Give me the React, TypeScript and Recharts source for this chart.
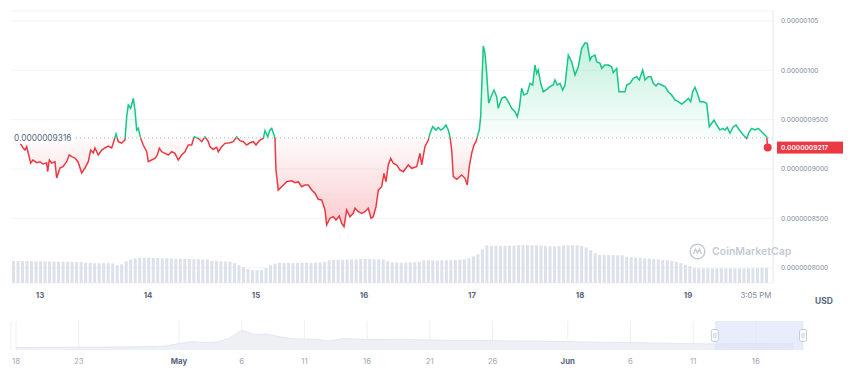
import React from "react";
import {
  ComposedChart,
  AreaChart,
  BarChart,
  Area,
  Bar,
  XAxis,
  YAxis,
  CartesianGrid,
  ReferenceLine,
  ReferenceDot,
  ReferenceArea,
} from "recharts";

const FONT = "Inter, 'Noto Sans', sans-serif";
const GREEN = "#16c784";
const RED = "#ea3943";
const MUTED = "#808a9d";
const DARK = "#58667e";

// hours since 13 Jun 00:00
const hours = [
  -6.44, -4.4, -3.71, -3.33, -2.96, -2.67, -2.07, -1.56, -0.73, 0,
  0.67, 1.49, 1.71, 2.07, 2.6, 3.33, 3.71, 4.44, 5.11, 5.93,
  6.51, 7.04, 7.78, 8.44, 9.27, 10.0, 10.73, 11.27, 11.84, 12.22,
  12.95, 13.71, 14.44, 15.18, 15.93, 16.29, 16.89, 17.4, 18.15, 18.89,
  19.27, 19.62, 20.15, 20.73, 21.11, 21.49, 21.84, 22.38, 22.95, 23.71,
  24.07, 24.82, 25.55, 26.07, 26.51, 27.04, 27.78, 28.51, 29.27, 30.0,
  30.73, 31.49, 32.22, 32.95, 33.71, 34.29, 35.18, 35.93, 36.67, 37.4,
  37.78, 38.51, 39.27, 39.62, 40.38, 41.11, 42.22, 42.95, 43.71, 44.44,
  45.18, 45.93, 46.67, 47.4, 48.0, 48.73, 49.62, 50.0, 50.6, 51.11,
  51.49, 52.0, 52.22, 52.44, 52.95, 53.71, 54.82, 55.93, 56.67, 57.4,
  58.15, 58.89, 59.62, 60.38, 61.11, 61.84, 62.6, 63.33, 63.71, 64.44,
  65.18, 65.78, 66.51, 67.04, 67.56, 68.15, 68.89, 69.62, 70.0, 70.73,
  71.49, 72.22, 72.95, 73.56, 74.07, 74.67, 75.18, 75.93, 76.44, 76.89,
  77.4, 77.93, 78.51, 79.27, 80.0, 80.73, 81.84, 82.6, 83.71, 84.44,
  84.82, 85.55, 86.29, 86.67, 87.27, 88.0, 88.51, 89.04, 89.62, 90.22,
  90.73, 91.11, 91.49, 91.84, 92.6, 93.71, 94.44, 94.95, 95.4, 95.93,
  96.44, 96.89, 97.18, 97.62, 97.93, 98.22, 98.51, 98.89, 99.27, 99.71,
  100.38, 100.89, 101.49, 101.84, 102.6, 103.33, 104.07, 104.82, 105.55, 106.07,
  106.51, 107.04, 107.55, 108.29, 108.89, 109.49, 110.0, 110.38, 110.73, 111.27,
  111.84, 112.6, 113.33, 114.07, 114.44, 114.95, 115.55, 116.15, 116.67, 117.4,
  118.15, 118.89, 119.62, 120.38, 121.11, 121.62, 122.22, 122.6, 123.33, 123.71,
  124.44, 124.82, 125.55, 126.29, 127.04, 127.4, 128.15, 128.67, 129.27, 130.0,
  130.38, 131.11, 131.84, 132.6, 133.18, 133.93, 134.44, 135.18, 135.78, 136.29,
  136.89, 137.4, 138.15, 138.89, 139.62, 140.38, 141.11, 141.84, 142.6, 143.33,
  144.07, 144.6, 145.04, 145.55, 146.07, 146.67, 147.4, 148.15, 148.73, 149.27,
  149.78, 150.38, 151.11, 151.71, 152.22, 152.73, 153.33, 154.07, 154.67, 155.4,
  156.29, 157.04, 157.62, 158.15, 158.89, 159.62, 160.38, 161.11, 161.49, 161.71,
];

// price in millionths of a USD
const price = [
  0.9316, 0.9263, 0.921, 0.9192, 0.9226, 0.9172, 0.9061, 0.9091, 0.9064, 0.9074,
  0.9051, 0.9061, 0.8973, 0.9091, 0.9061, 0.9074, 0.8909, 0.901, 0.9023, 0.9074,
  0.9142, 0.9125, 0.9111, 0.9074, 0.8959, 0.901, 0.9074, 0.9192, 0.9162, 0.9213,
  0.9142, 0.9192, 0.9213, 0.9233, 0.9213, 0.9263, 0.9355, 0.9277, 0.9263, 0.9294,
  0.953, 0.9648, 0.9615, 0.9716, 0.9598, 0.9395, 0.9415, 0.9311, 0.9243, 0.9175,
  0.9074, 0.9091, 0.9108, 0.9142, 0.921, 0.9175, 0.9159, 0.9142, 0.9175, 0.9159,
  0.9091, 0.9142, 0.9175, 0.9243, 0.9243, 0.9327, 0.9311, 0.9277, 0.9327, 0.9277,
  0.9226, 0.92, 0.922, 0.9175, 0.9226, 0.926, 0.9266, 0.9277, 0.9327, 0.9287,
  0.9277, 0.9243, 0.9266, 0.9277, 0.9243, 0.9287, 0.9311, 0.9388, 0.9327, 0.9395,
  0.9412, 0.9344, 0.9311, 0.899, 0.8787, 0.8821, 0.8871, 0.8881, 0.8861, 0.8871,
  0.8821, 0.8838, 0.8838, 0.8787, 0.8754, 0.8693, 0.8686, 0.8585, 0.8433, 0.8501,
  0.8517, 0.8483, 0.8524, 0.845, 0.8415, 0.8585, 0.8517, 0.8551, 0.8602, 0.8567,
  0.8551, 0.8567, 0.8602, 0.8501, 0.8517, 0.8618, 0.8787, 0.8821, 0.8956, 0.8871,
  0.9041, 0.9108, 0.9058, 0.9041, 0.899, 0.8973, 0.9041, 0.9007, 0.9023, 0.9159,
  0.9041, 0.9226, 0.9294, 0.9362, 0.9429, 0.9395, 0.9422, 0.9395, 0.9412, 0.9446,
  0.9395, 0.9327, 0.9192, 0.8922, 0.8896, 0.8939, 0.8906, 0.8838, 0.9023, 0.9159,
  0.9243, 0.9277, 0.9327, 0.9395, 0.953, 0.9902, 1.0246, 1.0172, 0.9969, 0.9666,
  0.975, 0.98, 0.9732, 0.9615, 0.9716, 0.9732, 0.9682, 0.9615, 0.958, 0.953,
  0.9615, 0.9818, 0.975, 0.9767, 0.9868, 0.9851, 1.0054, 0.9969, 1.0003, 0.9868,
  0.9783, 0.9807, 0.9834, 0.9851, 0.9902, 0.9851, 0.9868, 0.98, 0.9851, 1.0155,
  1.0087, 0.9952, 1.0036, 1.0223, 1.0279, 1.0273, 1.0104, 1.0138, 1.0155, 1.0087,
  1.0071, 1.002, 1.0054, 1.0054, 1.0036, 0.9976, 1.002, 0.9783, 0.9783, 0.9783,
  0.9851, 0.9868, 0.9919, 0.9935, 0.9902, 1.0003, 0.9902, 0.9935, 0.9935, 0.9868,
  0.9841, 0.9868, 0.9851, 0.9834, 0.9783, 0.975, 0.9699, 0.9682, 0.9658, 0.9682,
  0.9716, 0.9682, 0.9783, 0.9828, 0.9767, 0.9682, 0.9682, 0.9666, 0.9429, 0.9463,
  0.9496, 0.9446, 0.9395, 0.9412, 0.9395, 0.9422, 0.9362, 0.9429, 0.9446, 0.9395,
  0.9344, 0.9311, 0.9378, 0.9412, 0.9395, 0.9412, 0.9378, 0.9344, 0.9327, 0.9217,
];

const basePrice = 0.9316;
const lastPrice = price[price.length - 1];
const lastHour = hours[hours.length - 1];

const dayTicks = [0, 24, 48, 72, 96, 120, 144, 159.08];
const dayLabels = ["13", "14", "15", "16", "17", "18", "19", "3:05 PM"];
const priceTicks = [0.8, 0.85, 0.9, 0.95, 1.0, 1.05];
const priceLabels = [
  "0.0000008000",
  "0.0000008500",
  "0.0000009000",
  "0.0000009500",
  "0.00000100",
  "0.00000105",
];

// hourly volume, million USD, from 12 Jun 18:00
const volume = [
  89, 89, 88, 89, 88, 88,
  88, 88, 87, 87, 86, 86, 86, 85, 85, 85,
  82, 81, 80, 80, 80, 80, 79,
  72, 76, 88, 95,
  100, 101, 102, 102, 101, 101, 100, 100,
  99, 98, 98, 97, 97, 96, 96, 95, 95,
  90, 90, 88, 87, 86,
  80, 72, 64, 56, 52, 52, 52, 60, 72, 78,
  81, 81, 82, 81, 81, 82, 82, 81, 82, 83, 85,
  92, 93, 94, 94, 95, 95, 95,
  97, 97, 97, 96, 96, 95,
  88, 83, 83, 82, 83, 83, 84, 86,
  92, 92, 92, 91, 92, 92, 92, 93, 94,
  96, 100, 108, 116, 136, 152,
  150, 151, 150, 150, 151, 152, 153, 154, 154, 153, 152, 151, 150, 148, 148, 150, 152, 153, 153, 152, 150,
  144, 132, 120, 114, 114, 113, 113, 112, 112,
  105, 104, 103, 102, 100, 99, 97, 95, 93, 92, 90,
  86, 80, 74, 68, 62,
  59, 59, 59, 59, 59, 59, 59, 59, 59, 59, 59, 59, 59, 60, 61, 61,
  null,
];

// overview: daily price (millionths of USD) from 18 Apr
const overview = [
  0.4, 0.4, 0.42, 0.42, 0.43, 0.44, 0.45, 0.45, 0.47, 0.48, 0.5,
  0.55, 0.65, 1.0, 1.3, 1.15, 1.25, 1.8, 3.1, 2.4, 2.5,
  2.05, 1.75, 1.7, 1.65, 1.4, 1.75, 1.7, 1.65, 1.62, 1.6,
  1.6, 1.58, 1.55, 1.52, 1.5, 1.48, 1.48, 1.45, 1.42, 1.4,
  1.38, 1.36, 1.33, 1.3, 1.25, 1.22, 1.2, 1.18, 1.15, 1.12,
  1.08, 1.05, 1.0, 0.98, 0.95, 0.93, 0.95, 0.97, 1.0, 0.97, 0.95, 0.93,
];
const overviewTicks = [0, 5, 13, 18, 23, 28, 33, 38, 44, 49, 54, 59];
const overviewLabels = ["18", "23", "May", "6", "11", "16", "21", "26", "Jun", "6", "11", "16"];
const selection = [55.73, 62.76];

const priceData = hours.map((h, i) => ({ h, p: price[i] }));
const volumeData = volume.map((v) => ({ v }));
const overviewData = overview.map((p, d) => ({ d, p }));

const pMax = Math.max(...price);
const pMin = Math.min(...price);
const split = (pMax - basePrice) / (pMax - pMin);

const DayTick = ({ x, y, payload }: any) => {
  const i = dayTicks.indexOf(payload.value);
  const isTime = i === dayTicks.length - 1;
  return (
    <text
      x={x}
      y={y}
      dy="0.71em"
      textAnchor="middle"
      fontSize={7.8}
      fontFamily={FONT}
      fontWeight={isTime ? 400 : 700}
      fill={isTime ? MUTED : DARK}
    >
      {dayLabels[i]}
    </text>
  );
};

const OverviewTick = ({ x, y, payload }: any) => {
  const label = overviewLabels[overviewTicks.indexOf(payload.value)];
  const isMonth = label === "May" || label === "Jun";
  return (
    <text
      x={x}
      y={y}
      dy="0.71em"
      textAnchor="middle"
      fontSize={7.8}
      fontFamily={FONT}
      fontWeight={isMonth ? 700 : 400}
      fill={isMonth ? DARK : "#a1a9ba"}
    >
      {label}
    </text>
  );
};

const BaseLabel = ({ viewBox }: any) => (
  <g>
    <rect x={viewBox.x} y={viewBox.y - 6} width={62} height={12} fill="#fff" />
    <text
      x={viewBox.x + 3}
      y={viewBox.y}
      dy="0.35em"
      fontSize={8.3}
      fontFamily={FONT}
      fill={DARK}
    >
      0.0000009316
    </text>
  </g>
);

const LastLabel = ({ viewBox }: any) => (
  <g>
    <rect
      x={viewBox.x + viewBox.width + 4}
      y={viewBox.y - 6}
      width={66}
      height={12}
      fill={RED}
    />
    <text
      x={viewBox.x + viewBox.width + 8}
      y={viewBox.y}
      dy="0.35em"
      fontSize={6.6}
      fontWeight={600}
      fontFamily={FONT}
      fill="#fff"
    >
      0.0000009217
    </text>
  </g>
);

const Handle = ({ viewBox }: any) => {
  const cx = viewBox.x;
  const cy = viewBox.y + viewBox.height / 2;
  return (
    <g>
      <rect x={cx - 3.5} y={cy - 6} width={7} height={12} rx={2} fill="#fff" stroke="#c3cad8" />
      <line x1={cx - 1} x2={cx - 1} y1={cy - 2.5} y2={cy + 2.5} stroke="#c3cad8" />
      <line x1={cx + 1} x2={cx + 1} y1={cy - 2.5} y2={cy + 2.5} stroke="#c3cad8" />
    </g>
  );
};

export default function App() {
  const xDomain: [number, number] = [-6.44, 162.89];
  const yDomain: [number, number] = [0.7845, 1.0601];

  return (
    <div
      style={{
        position: "absolute",
        left: 0,
        top: 0,
        width: 860,
        height: 390,
        background: "#fff",
        overflow: "hidden",
        fontFamily: FONT,
      }}
    >
      <div style={{ position: "absolute", left: 0, top: 0 }}>
        <ComposedChart
          width={860}
          height={310}
          data={priceData}
          margin={{ top: 11, right: 0, bottom: 0, left: 11 }}
        >
          <defs>
            <linearGradient id="lineSplit" x1="0" y1="0" x2="0" y2="1">
              <stop offset={0} stopColor={GREEN} />
              <stop offset={split} stopColor={GREEN} />
              <stop offset={split} stopColor={RED} />
              <stop offset={1} stopColor={RED} />
            </linearGradient>
            <linearGradient id="fillSplit" x1="0" y1="0" x2="0" y2="1">
              <stop offset={0} stopColor={GREEN} stopOpacity={0.26} />
              <stop offset={split} stopColor={GREEN} stopOpacity={0.02} />
              <stop offset={split} stopColor={RED} stopOpacity={0.02} />
              <stop offset={1} stopColor={RED} stopOpacity={0.26} />
            </linearGradient>
          </defs>
          <CartesianGrid vertical={false} stroke="#f1f3f6" />
          <XAxis
            dataKey="h"
            type="number"
            domain={xDomain}
            allowDataOverflow
            ticks={dayTicks}
            interval={0}
            tick={<DayTick />}
            tickLine={false}
            axisLine={false}
            tickSize={0}
            tickMargin={9}
            height={27}
          />
          <XAxis
            xAxisId="top"
            dataKey="h"
            type="number"
            domain={xDomain}
            allowDataOverflow
            orientation="top"
            tick={false}
            tickLine={false}
            axisLine={{ stroke: "#eef0f4" }}
            height={0}
          />
          <YAxis
            orientation="right"
            domain={yDomain}
            allowDataOverflow
            ticks={priceTicks}
            interval={0}
            tickFormatter={(v: number) => priceLabels[priceTicks.indexOf(v)]}
            tick={{ fill: MUTED, fontSize: 6.6, fontFamily: FONT }}
            tickLine={false}
            tickSize={0}
            tickMargin={8}
            axisLine={{ stroke: "#e6e9ef" }}
            width={87}
          />
          <YAxis
            yAxisId="left"
            orientation="left"
            tick={false}
            tickLine={false}
            axisLine={{ stroke: "#eef0f4" }}
            width={0}
          />
          <Area
            type="linear"
            dataKey="p"
            baseValue={basePrice}
            stroke="url(#lineSplit)"
            strokeWidth={1.5}
            fill="url(#fillSplit)"
            fillOpacity={1}
            dot={false}
            activeDot={false}
            isAnimationActive={false}
          />
          <ReferenceLine
            y={basePrice}
            stroke="#b0b6c3"
            strokeDasharray="1 3"
            label={<BaseLabel />}
          />
          <ReferenceLine y={lastPrice} stroke="none" label={<LastLabel />} />
          <ReferenceDot x={lastHour} y={lastPrice} r={4} fill={RED} stroke="none" />
        </ComposedChart>
      </div>

      <div style={{ position: "absolute", left: 0, top: 0, pointerEvents: "none" }}>
        <BarChart
          width={860}
          height={310}
          data={volumeData}
          margin={{ top: 11, right: 87, bottom: 27, left: 11 }}
          barCategoryGap="22%"
        >
          <XAxis hide />
          <YAxis hide domain={[0, 1100]} />
          <Bar dataKey="v" fill="#dce1eb" isAnimationActive={false} />
        </BarChart>
      </div>

      <div
        style={{
          position: "absolute",
          left: 689,
          top: 243,
          display: "flex",
          alignItems: "center",
          gap: 6,
          color: "#c4cad6",
          fontSize: 10.5,
          fontWeight: 600,
          pointerEvents: "none",
        }}
      >
        <svg width={17} height={17} viewBox="0 0 17 17">
          <circle cx={8.5} cy={8.5} r={7.3} fill="none" stroke="#c4cad6" strokeWidth={1.5} />
          <path d="M4.5 11 L6.5 6 L8.5 10 L10.5 6 L12.5 11" fill="none" stroke="#c4cad6" strokeWidth={1.4} />
        </svg>
        <span>CoinMarketCap</span>
      </div>

      <div
        style={{
          position: "absolute",
          left: 815,
          top: 296,
          fontSize: 8.5,
          fontWeight: 700,
          color: DARK,
        }}
      >
        USD
      </div>

      <div style={{ position: "absolute", left: 0, top: 310 }}>
        <AreaChart
          width={860}
          height={60}
          data={overviewData}
          margin={{ top: 11, right: 57, bottom: 0, left: 11 }}
        >
          <CartesianGrid horizontal={false} stroke="#eef0f4" />
          <XAxis
            dataKey="d"
            type="number"
            domain={[-0.4, 62.76]}
            allowDataOverflow
            ticks={overviewTicks}
            interval={0}
            tick={<OverviewTick />}
            tickLine={false}
            axisLine={false}
            tickSize={0}
            tickMargin={8}
            height={20}
          />
          <XAxis
            xAxisId="top"
            dataKey="d"
            type="number"
            domain={[-0.4, 62.76]}
            orientation="top"
            tick={false}
            tickLine={false}
            axisLine={{ stroke: "#eef0f4" }}
            height={0}
          />
          <YAxis
            domain={[0, 4.5]}
            tick={false}
            tickLine={false}
            axisLine={{ stroke: "#eef0f4" }}
            width={0}
          />
          <YAxis
            yAxisId="right"
            orientation="right"
            tick={false}
            tickLine={false}
            axisLine={{ stroke: "#eef0f4" }}
            width={0}
          />
          <Area
            type="linear"
            dataKey="p"
            stroke="#e3e7ee"
            strokeWidth={1}
            fill="#edf0f5"
            fillOpacity={1}
            dot={false}
            activeDot={false}
            isAnimationActive={false}
          />
          <ReferenceArea
            x1={selection[0]}
            x2={selection[1]}
            fill="#d9e1fb"
            fillOpacity={0.6}
            stroke="none"
          />
          <ReferenceLine x={selection[0]} stroke="none" label={<Handle />} />
          <ReferenceLine x={selection[1]} stroke="none" label={<Handle />} />
        </AreaChart>
      </div>
    </div>
  );
}
